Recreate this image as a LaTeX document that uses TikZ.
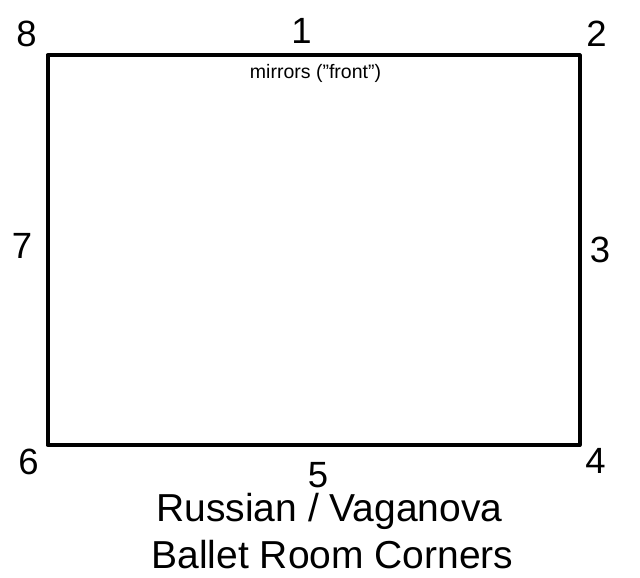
\documentclass[tikz,border=0pt]{standalone}
\usepackage{fontspec}
\setmainfont{Liberation Sans}
\begin{document}
\begin{tikzpicture}[x=1pt,y=-1pt,
  corner/.style={anchor=base,inner sep=0pt,font=\fontsize{36.5}{36}\selectfont},
  wall/.style={line width=4pt,line join=round},
  note/.style={anchor=base,inner sep=0pt,font=\fontsize{19.5}{20}\selectfont},
  title/.style={anchor=base,inner sep=0pt,font=\fontsize{39}{46.6}\selectfont}]
\useasboundingbox (0,0) rectangle (640,578);
\draw[wall] (47.5,55.5) rectangle (579.5,445);
\node[corner] (c1) at (301.5,43.5) {1};
\node[corner] (c2) at (596.5,46.5) {2};
\node[corner] (c3) at (600,262) {3};
\node[corner] (c4) at (595.5,473) {4};
\node[corner] (c5) at (318,487) {5};
\node[corner] (c6) at (28.5,474.5) {6};
\node[corner] (c7) at (22,258) {7};
\node[corner] (c8) at (26.5,47) {8};
\node[note] (mir) at (315.5,78.5) {mirrors (”front”)};
\node[title] (t1) at (329.5,521.5) {Russian / Vaganova};
\node[title] (t2) at (332.5,568) {Ballet Room Corners};
\end{tikzpicture}
\end{document}
